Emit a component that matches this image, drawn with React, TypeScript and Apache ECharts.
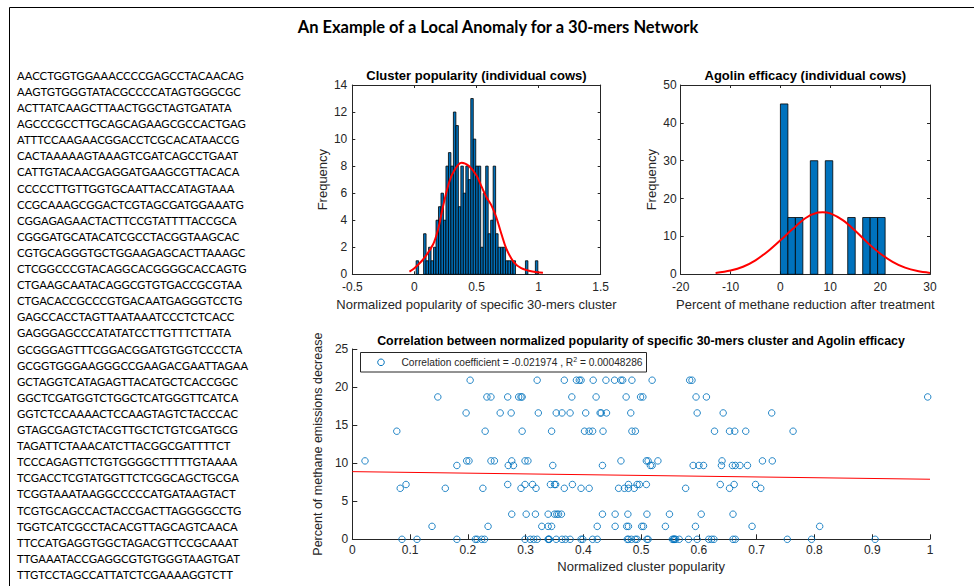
import React, { useEffect, useRef } from "react";
import * as echarts from "echarts";

// ---------- DATA ----------
const sequences = [
  "AACCTGGTGGAAACCCCGAGCCTACAACAG",
  "AAGTGTGGGTATACGCCCCATAGTGGGCGC",
  "ACTTATCAAGCTTAACTGGCTAGTGATATA",
  "AGCCCGCCTTGCAGCAGAAGCGCCACTGAG",
  "ATTTCCAAGAACGGACCTCGCACATAACCG",
  "CACTAAAAAGTAAAGTCGATCAGCCTGAAT",
  "CATTGTACAACGAGGATGAAGCGTTACACA",
  "CCCCCTTGTTGGTGCAATTACCATAGTAAA",
  "CCGCAAAGCGGACTCGTAGCGATGGAAATG",
  "CGGAGAGAACTACTTCCGTATTTTACCGCA",
  "CGGGATGCATACATCGCCTACGGTAAGCAC",
  "CGTGCAGGGTGCTGGAAGAGCACTTAAAGC",
  "CTCGGCCCGTACAGGCACGGGGCACCAGTG",
  "CTGAAGCAATACAGGCGTGTGACCGCGTAA",
  "CTGACACCGCCCGTGACAATGAGGGTCCTG",
  "GAGCCACCTAGTTAATAAATCCCTCTCACC",
  "GAGGGAGCCCATATATCCTTGTTTCTTATA",
  "GCGGGAGTTTCGGACGGATGTGGTCCCCTA",
  "GCGGTGGGAAGGGCCGAAGACGAATTAGAA",
  "GCTAGGTCATAGAGTTACATGCTCACCGGC",
  "GGCTCGATGGTCTGGCTCATGGGTTCATCA",
  "GGTCTCCAAAACTCCAAGTAGTCTACCCAC",
  "GTAGCGAGTCTACGTTGCTCTGTCGATGCG",
  "TAGATTCTAAACATCTTACGGCGATTTTCT",
  "TCCCAGAGTTCTGTGGGGCTTTTTGTAAAA",
  "TCGACCTCGTATGGTTCTCGGCAGCTGCGA",
  "TCGGTAAATAAGGCCCCCATGATAAGTACT",
  "TCGTGCAGCCACTACCGACTTAGGGGCCTG",
  "TGGTCATCGCCTACACGTTAGCAGTCAACA",
  "TTCCATGAGGTGGCTAGACGTTCCGCAAAT",
  "TTGAAATACCGAGGCGTGTGGGTAAGTGAT",
  "TTGTCCTAGCCATTATCTCGAAAAGGTCTT",
];

// Histogram 1: cluster popularity
const hist1BinStart = 0.014;
const hist1BinWidth = 0.02;
const hist1Counts = [
  1, 0, 0, 3, 1, 2, 1, 2, 4, 5, 6, 4, 8, 9, 8, 12, 11, 5, 8, 6, 8, 7, 13, 10, 8,
  8, 2, 6, 8, 3, 4, 8, 3, 2, 2, 2, 1, 1, 1, 1, 0, 0, 0, 0, 1, 0, 0, 0, 1,
];
const hist1FitX = [-0.04, 0, 0.07, 0.15, 0.19, 0.23, 0.27, 0.31, 0.38, 0.44, 0.5, 0.54, 0.58, 0.62, 0.66, 0.7, 0.74, 0.8, 0.86, 0.95, 1.035];
const hist1FitY = [0.2, 0.45, 1.1, 2.2, 3.3, 5.0, 6.5, 7.5, 8.25, 8.0, 7.3, 6.5, 5.7, 5.1, 4.2, 3.0, 1.9, 0.9, 0.45, 0.2, 0.12];

// Histogram 2: Agolin efficacy
const hist2BinStart = 0;
const hist2BinWidth = 1.5;
const hist2Counts = [45, 15, 15, 0, 30, 0, 30, 0, 0, 15, 0, 15, 15, 15];
const hist2FitX = [-13, -10, -7.5, -5, -2.5, 0, 2.5, 5, 7.5, 8.5, 10, 12.5, 15, 17.5, 20, 22.5, 25, 27.5, 30];
const hist2FitY = [0.35, 1.0, 2.0, 3.7, 6.1, 9.0, 12.0, 14.8, 16.3, 16.4, 16.1, 14.3, 11.5, 8.3, 5.5, 3.3, 1.75, 0.85, 0.37];

// Scatter: methane decrease levels and popularity values at each level
const scatterLevels = [20.9, 18.7, 16.6, 14.2, 10.3, 9.7, 7.2, 6.7, 3.3, 1.7, 0];
const popAt20_9 = [0.204, 0.32, 0.367, 0.388, 0.393, 0.396, 0.417, 0.439, 0.454, 0.465, 0.468, 0.484, 0.519, 0.584, 0.588];
const popAt18_7 = [0.148, 0.233, 0.24, 0.269, 0.288, 0.292, 0.294, 0.38, 0.422, 0.474, 0.499, 0.503, 0.595, 0.613, 0.996];
const popAt16_6 = [0.197, 0.256, 0.275, 0.322, 0.353, 0.363, 0.377, 0.404, 0.429, 0.431, 0.44, 0.482, 0.597, 0.642, 0.726];
const popAt14_2 = [0.077, 0.23, 0.294, 0.345, 0.402, 0.41, 0.416, 0.434, 0.484, 0.49, 0.627, 0.653, 0.662, 0.681, 0.763];
const popAt10_3 = [0.022, 0.198, 0.202, 0.24, 0.246, 0.276, 0.299, 0.304, 0.465, 0.509, 0.512, 0.529, 0.64, 0.71, 0.727];
const popAt9_7 = [0.181, 0.27, 0.279, 0.347, 0.433, 0.516, 0.519, 0.59, 0.6, 0.608, 0.639, 0.658, 0.663, 0.671, 0.684];
const popAt7_2 = [0.093, 0.269, 0.299, 0.312, 0.343, 0.35, 0.352, 0.381, 0.478, 0.493, 0.497, 0.509, 0.637, 0.661, 0.698];
const popAt6_7 = [0.083, 0.161, 0.226, 0.292, 0.318, 0.367, 0.396, 0.41, 0.461, 0.471, 0.478, 0.488, 0.577, 0.653, 0.707];
const popAt3_3 = [0.276, 0.301, 0.317, 0.339, 0.35, 0.354, 0.357, 0.362, 0.433, 0.455, 0.477, 0.51, 0.549, 0.604, 0.659];
const popAt1_7 = [0.138, 0.235, 0.328, 0.339, 0.345, 0.424, 0.455, 0.475, 0.478, 0.501, 0.504, 0.542, 0.594, 0.692, 0.809];
const popAt0 = [
  0.086, 0.112, 0.181, 0.213, 0.216, 0.224, 0.229, 0.299, 0.308, 0.314, 0.32, 0.339, 0.34, 0.341, 0.353,
  0.363, 0.369, 0.377, 0.396, 0.399, 0.416, 0.424, 0.476, 0.478, 0.483, 0.49, 0.493, 0.51, 0.512, 0.554,
  0.556, 0.557, 0.558, 0.56, 0.566, 0.582, 0.597, 0.617, 0.622, 0.626, 0.659, 0.663, 0.753, 0.795, 0.905,
];
const popByLevel = [popAt20_9, popAt18_7, popAt16_6, popAt14_2, popAt10_3, popAt9_7, popAt7_2, popAt6_7, popAt3_3, popAt1_7, popAt0];

const fitLineX = [0, 1];
const fitLineY = [8.89, 7.89];

const hist1XTicks = { min: -0.5, max: 1.5, interval: 0.5 };
const hist1YTicks = { min: 0, max: 14, interval: 2 };
const hist2XTicks = { min: -20, max: 30, interval: 10 };
const hist2YTicks = { min: 0, max: 50, interval: 10 };
const scatXTicks = { min: 0, max: 1, interval: 0.1 };
const scatYTicks = { min: 0, max: 25, interval: 5 };

// ---------- STYLE ----------
const AX = "#262626";
const BLUE = "#0072BD";
const FONT = "'Liberation Sans', Arial, sans-serif";

function mainAxis(gridIndex: number, t: any, name: string, isX: boolean, tickLen: number, labelMargin: number, nameGap: number, nameSize = 13) {
  return {
    type: "value",
    gridIndex,
    min: t.min,
    max: t.max,
    interval: t.interval,
    position: isX ? "bottom" : "left",
    axisLine: { show: true, onZero: false, lineStyle: { color: AX, width: 1 } },
    axisTick: { show: true, inside: true, length: tickLen, lineStyle: { color: AX } },
    axisLabel: { show: true, margin: labelMargin, color: AX, fontSize: 12, fontFamily: FONT },
    splitLine: { show: false },
    name,
    nameLocation: "middle",
    nameGap,
    nameTextStyle: { color: AX, fontSize: nameSize, fontFamily: FONT },
  };
}

function mirrorAxis(gridIndex: number, t: any, isX: boolean, tickLen: number) {
  return {
    type: "value",
    gridIndex,
    min: t.min,
    max: t.max,
    interval: t.interval,
    position: isX ? "top" : "right",
    axisLine: { show: true, onZero: false, lineStyle: { color: AX, width: 1 } },
    axisTick: { show: true, inside: true, length: tickLen, lineStyle: { color: AX } },
    axisLabel: { show: false },
    splitLine: { show: false },
  };
}

function histRender(params: any, api: any) {
  const h = api.value(2);
  if (!h) return null;
  const p0 = api.coord([api.value(0), h]);
  const p1 = api.coord([api.value(1), 0]);
  return {
    type: "rect",
    shape: { x: p0[0], y: p0[1], width: p1[0] - p0[0], height: p1[1] - p0[1] },
    style: { fill: BLUE, stroke: "#000", lineWidth: 0.8 },
  };
}

export default function App() {
  const ref = useRef<HTMLDivElement>(null);

  useEffect(() => {
    if (!ref.current) return;
    const chart = echarts.init(ref.current, undefined, { renderer: "svg" });

    const hist1Data = hist1Counts.map((c, i) => [
      hist1BinStart + i * hist1BinWidth,
      hist1BinStart + (i + 1) * hist1BinWidth,
      c,
    ]);
    const hist2Data = hist2Counts.map((c, i) => [
      hist2BinStart + i * hist2BinWidth,
      hist2BinStart + (i + 1) * hist2BinWidth,
      c,
    ]);
    const scatterData: number[][] = [];
    scatterLevels.forEach((lv, i) => {
      popByLevel[i].forEach((x) => scatterData.push([x, lv]));
    });

    const textLines = sequences.map((s, i) => ({
      type: "text",
      x: 17,
      y: 75.3 + i * 16.1,
      style: {
        text: s,
        fill: "#000",
        fontSize: 11.35,
        fontFamily: "Lato, 'Open Sans', sans-serif",
        align: "left",
        verticalAlign: "middle",
      },
    }));

    const titleStyle = (text: string, size: number) => ({
      text,
      fill: "#000",
      fontSize: size,
      fontWeight: "bold",
      fontFamily: FONT,
      align: "center",
      verticalAlign: "middle",
    });

    const option: any = {
      animation: false,
      backgroundColor: "#fff",
      grid: [
        { left: 352.3, top: 85, width: 248.4, height: 189.3, show: false },
        { left: 680.7, top: 85, width: 249.3, height: 189.3, show: false },
        { left: 352.3, top: 349, width: 577.7, height: 190.3, show: false },
      ],
      xAxis: [
        mainAxis(0, hist1XTicks, "Normalized popularity of specific 30-mers cluster", true, 3, 7, 24),
        mirrorAxis(0, hist1XTicks, true, 3),
        mainAxis(1, hist2XTicks, "Percent of methane reduction after treatment", true, 3, 7, 24),
        mirrorAxis(1, hist2XTicks, true, 3),
        mainAxis(2, scatXTicks, "Normalized cluster popularity", true, 5, 5, 21),
      ],
      yAxis: [
        mainAxis(0, hist1YTicks, "Frequency", false, 3, 5, 23),
        mirrorAxis(0, hist1YTicks, false, 3),
        mainAxis(1, hist2YTicks, "Frequency", false, 3, 4, 22.5),
        mirrorAxis(1, hist2YTicks, false, 3),
        mainAxis(2, scatYTicks, "Percent of methane emissions decrease", false, 5, 4, 21, 12.5),
      ],
      series: [
        {
          type: "custom",
          xAxisIndex: 0,
          yAxisIndex: 0,
          renderItem: histRender,
          encode: { x: [0, 1], y: 2 },
          data: hist1Data,
          silent: true,
        },
        {
          type: "line",
          xAxisIndex: 0,
          yAxisIndex: 0,
          data: hist1FitX.map((x, i) => [x, hist1FitY[i]]),
          smooth: 0.35,
          symbol: "none",
          lineStyle: { color: "#FF0000", width: 2 },
          silent: true,
        },
        {
          type: "custom",
          xAxisIndex: 2,
          yAxisIndex: 2,
          renderItem: histRender,
          encode: { x: [0, 1], y: 2 },
          data: hist2Data,
          silent: true,
        },
        {
          type: "line",
          xAxisIndex: 2,
          yAxisIndex: 2,
          data: hist2FitX.map((x, i) => [x, hist2FitY[i]]),
          smooth: 0.35,
          symbol: "none",
          lineStyle: { color: "#FF0000", width: 2 },
          silent: true,
        },
        {
          type: "scatter",
          xAxisIndex: 4,
          yAxisIndex: 4,
          data: scatterData,
          symbol: "circle",
          symbolSize: 6.5,
          itemStyle: { color: "rgba(0,0,0,0)", borderColor: BLUE, borderWidth: 1, opacity: 0.85 },
          silent: true,
        },
        {
          type: "line",
          xAxisIndex: 4,
          yAxisIndex: 4,
          data: fitLineX.map((x, i) => [x, fitLineY[i]]),
          symbol: "none",
          lineStyle: { color: "#FF0000", width: 1 },
          silent: true,
        },
      ],
      graphic: [
        { type: "line", shape: { x1: 9.5, y1: 7.5, x2: 974, y2: 7.5 }, style: { stroke: "#000", lineWidth: 1 } },
        { type: "line", shape: { x1: 9.5, y1: 7.5, x2: 9.5, y2: 586 }, style: { stroke: "#000", lineWidth: 1 } },
        {
          type: "text",
          x: 498,
          y: 27,
          style: {
            text: "An Example of a Local Anomaly for a 30-mers Network",
            fill: "#000",
            fontSize: 16.5,
            fontWeight: "bold",
            fontFamily: "Lato, 'Open Sans', sans-serif",
            align: "center",
            verticalAlign: "middle",
          },
        },
        ...textLines,
        { type: "text", x: 476.5, y: 75, style: titleStyle("Cluster popularity (individual cows)", 13) },
        { type: "text", x: 805.3, y: 75, style: titleStyle("Agolin efficacy (individual cows)", 13) },
        {
          type: "text",
          x: 641,
          y: 341,
          style: titleStyle("Correlation between normalized popularity of specific 30-mers cluster and Agolin efficacy", 12.4),
        },
        {
          type: "rect",
          shape: { x: 360.5, y: 352.5, width: 286, height: 19.5 },
          style: { fill: "#fff", stroke: AX, lineWidth: 1 },
          z: 50,
        },
        {
          type: "circle",
          shape: { cx: 381, cy: 362.3, r: 3.3 },
          style: { fill: "none", stroke: BLUE, lineWidth: 1 },
          z: 51,
        },
        {
          type: "text",
          x: 401.5,
          y: 362.5,
          z: 51,
          style: {
            text: "{a|Correlation coefficient = -0.021974 , R}{s|2}{a| = 0.00048286}",
            fill: AX,
            fontSize: 10.2,
            fontFamily: FONT,
            align: "left",
            verticalAlign: "middle",
            rich: {
              a: { fontSize: 10.2, fontFamily: FONT, fill: AX, lineHeight: 14 },
              s: { fontSize: 7, fontFamily: FONT, fill: AX, lineHeight: 14, verticalAlign: "top", padding: [0, 0, 4, 0] },
            },
          },
        },
      ],
    };

    chart.setOption(option);
    return () => chart.dispose();
  }, []);

  return (
    <div
      ref={ref}
      style={{ position: "fixed", left: 0, top: 0, width: 974, height: 586, background: "#fff" }}
    />
  );
}
